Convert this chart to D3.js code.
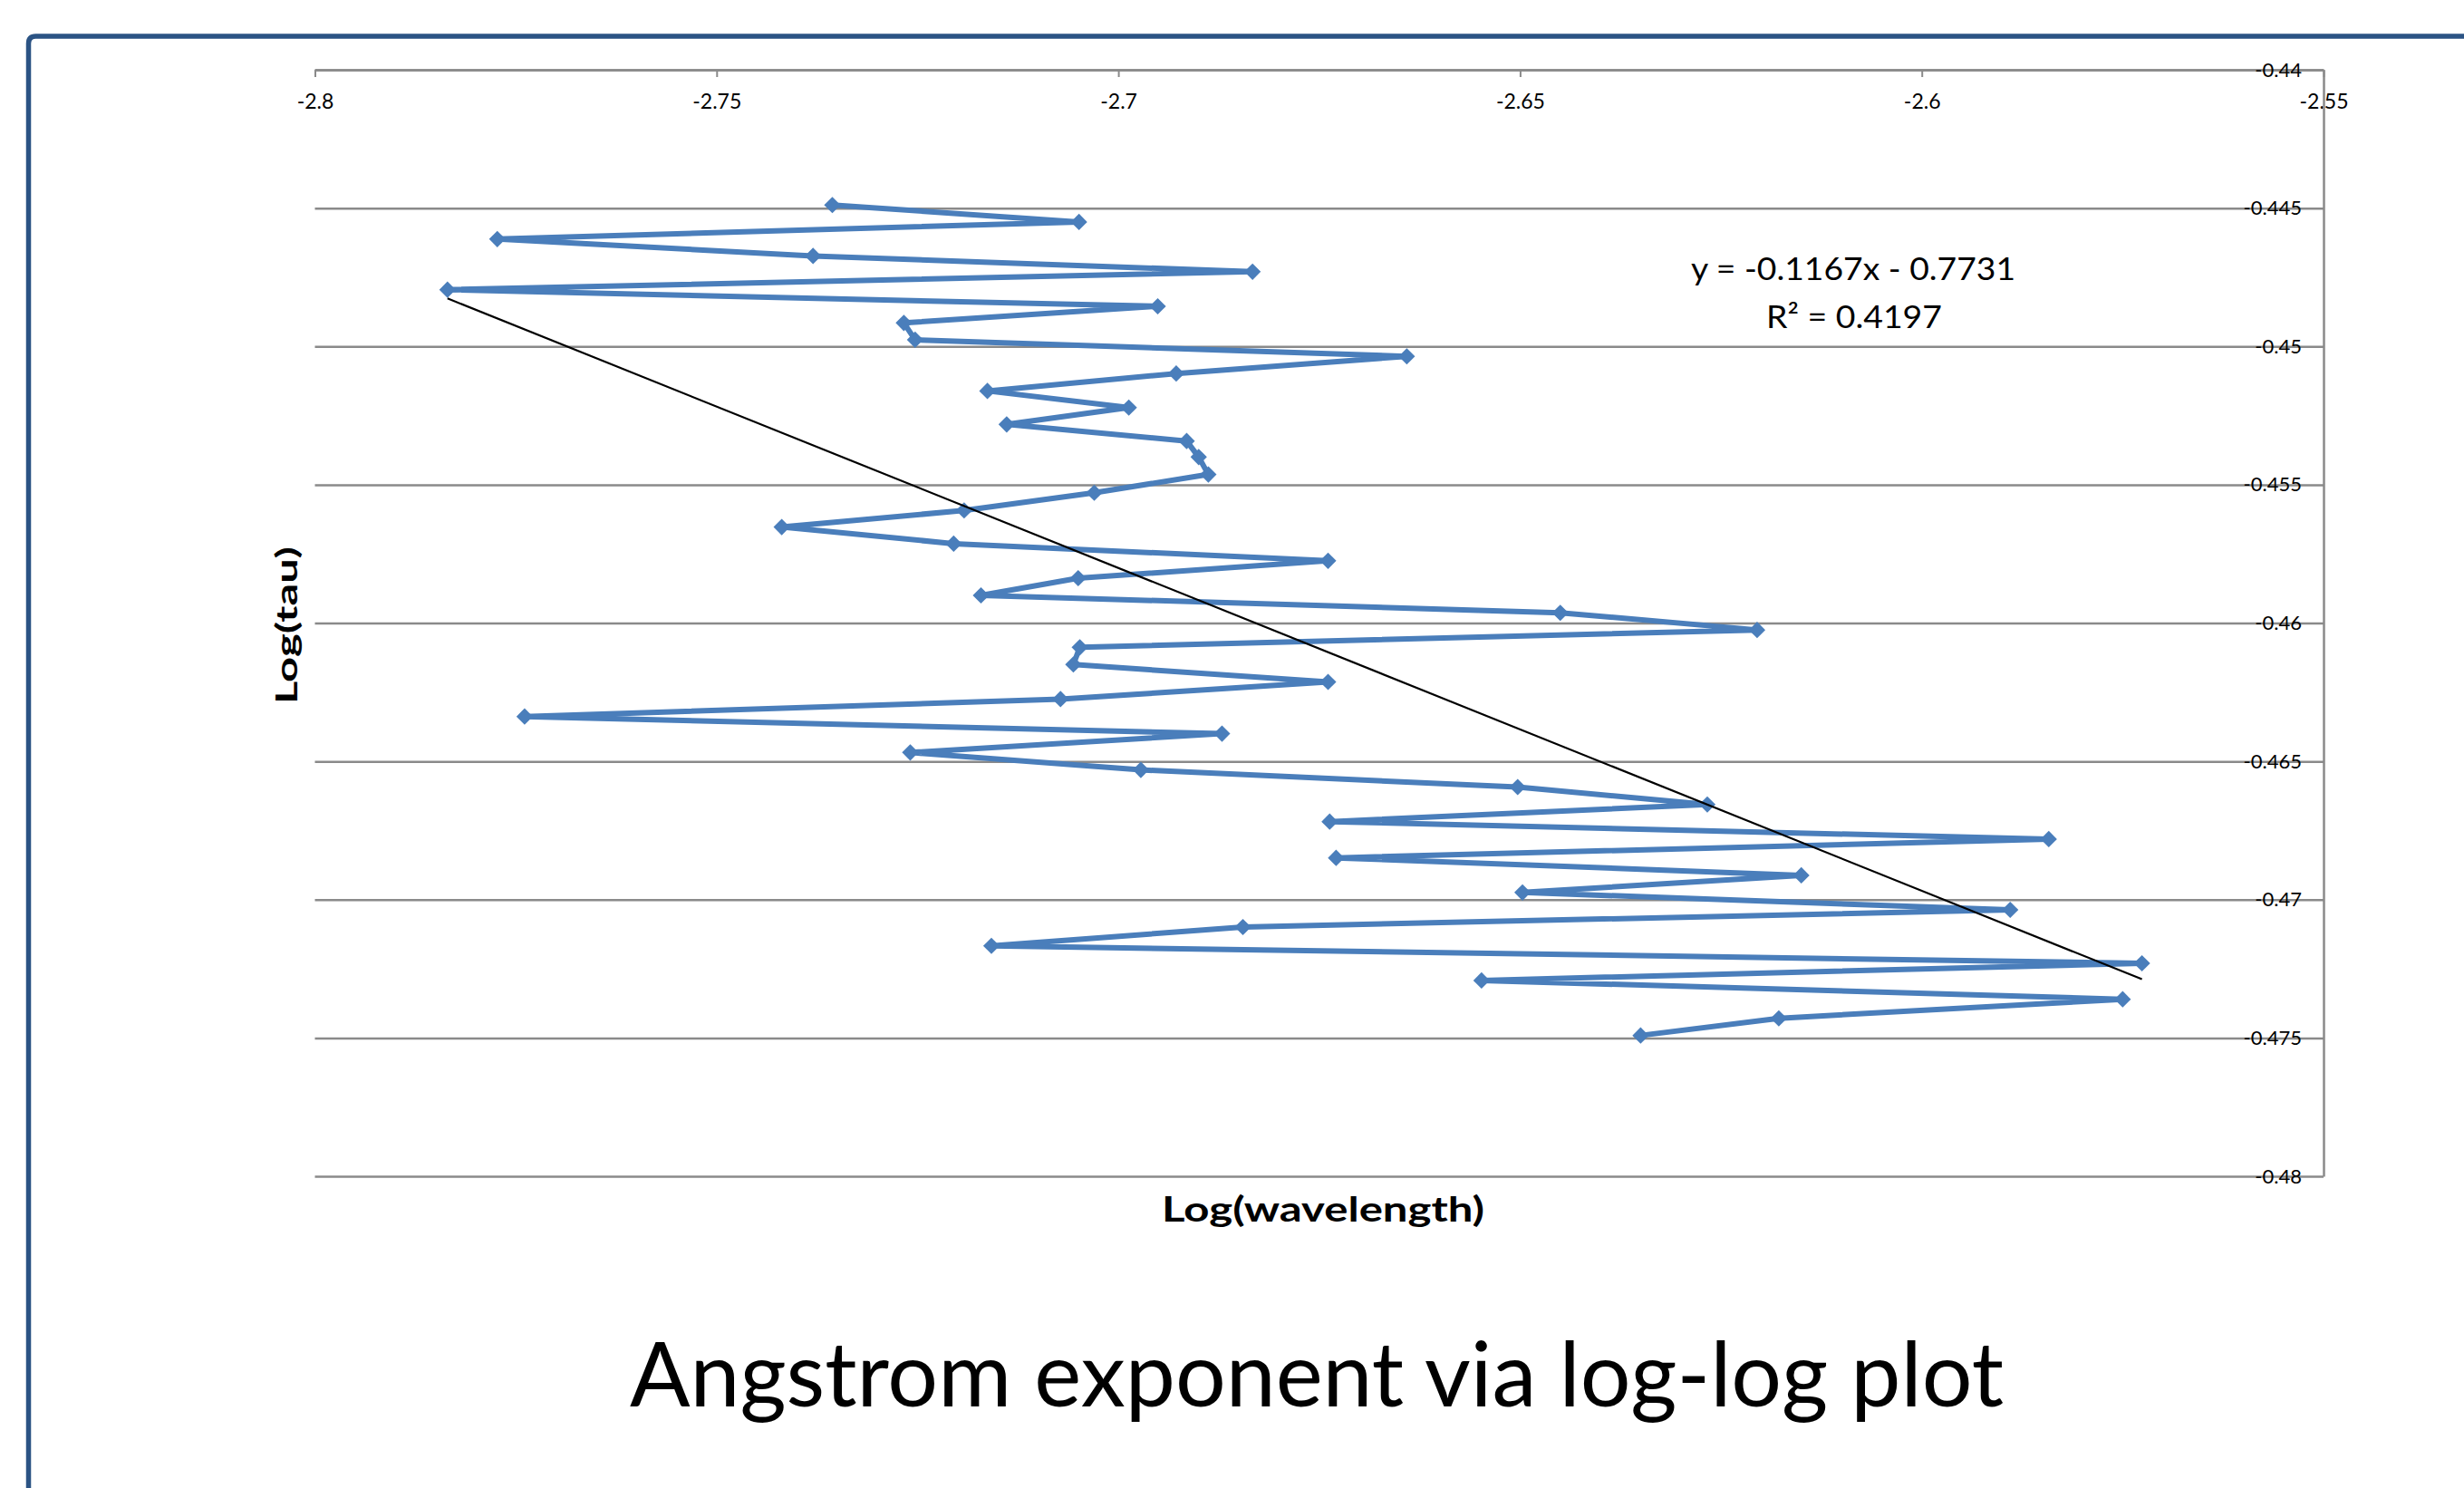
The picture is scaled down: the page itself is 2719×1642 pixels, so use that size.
<!DOCTYPE html>
<html>
<head>
<meta charset="utf-8">
<script src="https://cdn.jsdelivr.net/npm/d3@7.9.0/dist/d3.min.js"></script>
<style>
  body { margin: 0; background: #fff; }
  svg { display: block; font-family: Lato, "Noto Sans", sans-serif; }
</style>
</head>
<body>
<svg id="chart" width="2719" height="1642"></svg>
<script>
// log(wavelength) and log(tau), in plot order
const logWavelength = [
  -2.7356, -2.7049, -2.7773, -2.7380, -2.6833, -2.7835, -2.6951, -2.7267, -2.7253, -2.6641,
  -2.6928, -2.7163, -2.6987, -2.7139, -2.6915, -2.6900, -2.6888, -2.7030, -2.7192, -2.7419,
  -2.7205, -2.6739, -2.7050, -2.7171, -2.6450, -2.6205, -2.7048, -2.7056, -2.6739, -2.7072,
  -2.7739, -2.6871, -2.7259, -2.6972, -2.6503, -2.6267, -2.6737, -2.5842, -2.6729, -2.6150,
  -2.6497, -2.5890, -2.6845, -2.7158, -2.5726, -2.6548, -2.5750, -2.6178, -2.6350
];
const logTau = [
  -0.44489, -0.44550, -0.44612, -0.44673, -0.44730, -0.44795, -0.44855, -0.44915, -0.44976, -0.45036,
  -0.45098, -0.45161, -0.45221, -0.45282, -0.45342, -0.45400, -0.45463, -0.45529, -0.45593, -0.45653,
  -0.45713, -0.45775, -0.45838, -0.45900, -0.45963, -0.46025, -0.46088, -0.46150, -0.46213, -0.46275,
  -0.46338, -0.46400, -0.46468, -0.46531, -0.46593, -0.46656, -0.46718, -0.46781, -0.46849, -0.46912,
  -0.46974, -0.47037, -0.47099, -0.47167, -0.47230, -0.47292, -0.47360, -0.47429, -0.47491
];

const xTicks = [-2.8, -2.75, -2.7, -2.65, -2.6, -2.55];
const yTicks = [-0.44, -0.445, -0.45, -0.455, -0.46, -0.465, -0.47, -0.475, -0.48];

// linear trendline as printed on the chart
const slope = -0.1167;
const intercept = -0.7731;
const rSquared = 0.4197;

const points = logWavelength.map((x, i) => ({ x, y: logTau[i] }));

const svg = d3.select('#chart');

const x = d3.scaleLinear().domain([-2.8, -2.55]).range([347.5, 2564]);
const y = d3.scaleLinear().domain([-0.44, -0.48]).range([77, 1298]);

// frame (only top + left edge visible)
svg.append('path')
  .attr('d', 'M31.5,1660 V48 Q31.5,40 39.5,40 H2740')
  .attr('fill', 'none')
  .attr('stroke', '#2b5384')
  .attr('stroke-width', 5.5);

// horizontal gridlines
svg.append('g')
  .attr('transform', `translate(${x(-2.8)},0)`)
  .call(d3.axisRight(y).tickValues(yTicks).tickSize(x(-2.55) - x(-2.8)).tickFormat(''))
  .call(g => g.select('.domain').remove())
  .call(g => g.selectAll('line').attr('stroke', '#8a8a8a').attr('stroke-width', 2.5));

// x axis along the top
svg.append('g')
  .attr('transform', `translate(0,${y(-0.44)})`)
  .call(d3.axisBottom(x).tickValues(xTicks).tickSize(8).tickSizeOuter(0).tickPadding(19)
    .tickFormat(d => String(+d.toFixed(2))))
  .call(g => g.select('.domain').attr('stroke', '#8a8a8a').attr('stroke-width', 2.5))
  .call(g => g.selectAll('line').attr('stroke', '#8a8a8a').attr('stroke-width', 2))
  .call(g => g.selectAll('text').attr('font-size', 23).attr('font-family', 'Lato').attr('fill', '#000'));

// y axis on the right
svg.append('g')
  .attr('transform', `translate(${x(-2.55)},0)`)
  .call(d3.axisLeft(y).tickValues(yTicks).tickSize(0).tickSizeOuter(0).tickPadding(24)
    .tickFormat(d => String(+d.toFixed(3))))
  .call(g => g.select('.domain').attr('stroke', '#8a8a8a').attr('stroke-width', 2.5))
  .call(g => g.selectAll('text').attr('font-size', 22).attr('font-family', 'Lato').attr('fill', '#000'));

// series
const line = d3.line().x(d => x(d.x)).y(d => y(d.y));

svg.append('path')
  .datum(points)
  .attr('d', line)
  .attr('fill', 'none')
  .attr('stroke', '#4a7ebb')
  .attr('stroke-width', 6)
  .attr('stroke-linejoin', 'round');

svg.append('g')
  .selectAll('path')
  .data(points)
  .join('path')
  .attr('transform', d => `translate(${x(d.x)},${y(d.y)})`)
  .attr('d', d3.symbol(d3.symbolDiamond2, 210))
  .attr('fill', '#4a7ebb');

// trendline
const [xMin, xMax] = d3.extent(logWavelength);
svg.append('line')
  .attr('x1', x(xMin)).attr('y1', y(slope * xMin + intercept))
  .attr('x2', x(xMax)).attr('y2', y(slope * xMax + intercept))
  .attr('stroke', '#000')
  .attr('stroke-width', 2.2);

// equation
svg.append('text')
  .attr('x', 2045).attr('y', 309)
  .attr('text-anchor', 'middle')
  .attr('font-size', 35)
  .attr('textLength', 358).attr('lengthAdjust', 'spacingAndGlyphs')
  .text(`y = ${slope}x - ${Math.abs(intercept)}`);

svg.append('text')
  .attr('x', 2046).attr('y', 362)
  .attr('text-anchor', 'middle')
  .attr('font-size', 35)
  .attr('textLength', 194).attr('lengthAdjust', 'spacingAndGlyphs')
  .text(`R² = ${rSquared}`);

// axis titles
svg.append('text')
  .attr('x', 1460).attr('y', 1348)
  .attr('text-anchor', 'middle')
  .attr('font-size', 38).attr('font-weight', 'bold')
  .attr('textLength', 356).attr('lengthAdjust', 'spacingAndGlyphs')
  .text('Log(wavelength)');

svg.append('text')
  .attr('transform', 'translate(328,690) rotate(-90)')
  .attr('text-anchor', 'middle')
  .attr('font-size', 33).attr('font-weight', 'bold')
  .attr('textLength', 174).attr('lengthAdjust', 'spacingAndGlyphs')
  .text('Log(tau)');

// chart title
svg.append('text')
  .attr('x', 1453).attr('y', 1552)
  .attr('text-anchor', 'middle')
  .attr('font-size', 98)
  .attr('textLength', 1516).attr('lengthAdjust', 'spacingAndGlyphs')
  .text('Angstrom exponent via log-log plot');
</script>
</body>
</html>
